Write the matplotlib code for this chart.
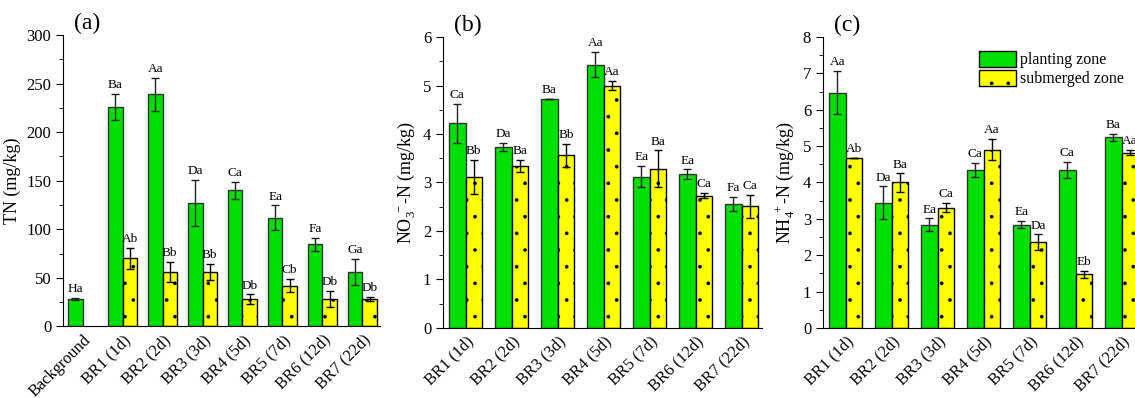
import matplotlib.pyplot as plt
import numpy as np
from matplotlib.patches import Patch
from matplotlib.ticker import MultipleLocator
from matplotlib.transforms import ScaledTranslation

plt.rcParams['font.family'] = 'Liberation Serif'
plt.rcParams['mathtext.fontset'] = 'custom'
plt.rcParams['mathtext.rm'] = 'Liberation Serif'
plt.rcParams['mathtext.it'] = 'Liberation Serif:italic'
plt.rcParams['hatch.linewidth'] = 0.2

# panel (a) TN
tn_cats = ['Background', 'BR1 (1d)', 'BR2 (2d)', 'BR3 (3d)', 'BR4 (5d)', 'BR5 (7d)', 'BR6 (12d)', 'BR7 (22d)']
tn_plant = [28, 226, 239, 127, 140, 112, 84.6, 56]
tn_plant_err = [1, 13, 17, 24, 9, 12.6, 6.5, 13.7]
tn_sub = [np.nan, 70, 56, 56, 28, 42, 28, 28]
tn_sub_err = [0, 11, 10, 8, 5, 7, 8.5, 2.4]
tn_plant_lab = ['Ha', 'Ba', 'Aa', 'Da', 'Ca', 'Ea', 'Fa', 'Ga']
tn_sub_lab = ['', 'Ab', 'Bb', 'Bb', 'Db', 'Cb', 'Db', 'Db']

# panel (b) NO3-N
br_cats = ['BR1 (1d)', 'BR2 (2d)', 'BR3 (3d)', 'BR4 (5d)', 'BR5 (7d)', 'BR6 (12d)', 'BR7 (22d)']
no3_plant = [4.22, 3.73, 4.72, 5.43, 3.12, 3.17, 2.56]
no3_plant_err = [0.4, 0.09, 0, 0.26, 0.22, 0.1, 0.14]
no3_sub = [3.12, 3.34, 3.56, 5.0, 3.28, 2.73, 2.51]
no3_sub_err = [0.35, 0.12, 0.24, 0.1, 0.38, 0.05, 0.24]
no3_plant_lab = ['Ca', 'Da', 'Ba', 'Aa', 'Ea', 'Ea', 'Fa']
no3_sub_lab = ['Bb', 'Ba', 'Bb', 'Aa', 'Ba', 'Ca', 'Ca']

# panel (c) NH4-N
nh4_plant = [6.47, 3.44, 2.84, 4.34, 2.84, 4.34, 5.24]
nh4_plant_err = [0.6, 0.45, 0.17, 0.2, 0.1, 0.23, 0.09]
nh4_sub = [4.68, 4.0, 3.31, 4.9, 2.36, 1.47, 4.82]
nh4_sub_err = [0, 0.25, 0.12, 0.29, 0.21, 0.1, 0.07]
nh4_plant_lab = ['Aa', 'Da', 'Ea', 'Ca', 'Ea', 'Ca', 'Ba']
nh4_sub_lab = ['Ab', 'Ba', 'Ca', 'Aa', 'Da', 'Eb', 'Aa']

green = '#00e000'
yellow = '#ffff00'
w = 0.36


def draw_panel(ax, cats, plant, plant_err, sub, sub_err, plant_lab, sub_lab, ymax, step, ylabel, tag):
    x = np.arange(len(cats))
    ax.bar(x - w / 2, plant, w, color=green, edgecolor='#333333', linewidth=1)
    ax.bar(x + w / 2, sub, w, color=yellow, edgecolor='black', linewidth=1, hatch='.')
    ax.errorbar(x - w / 2, plant, yerr=plant_err, fmt='none', ecolor='#222222', capsize=3, elinewidth=1, capthick=1)
    ax.errorbar(x + w / 2, sub, yerr=sub_err, fmt='none', ecolor='black', capsize=3, elinewidth=1, capthick=1)
    for i in range(len(cats)):
        ax.annotate(plant_lab[i], (x[i] - w / 2, plant[i] + plant_err[i]), xytext=(0, 2),
                    textcoords='offset points', ha='center', va='bottom', fontsize=9.5)
        if sub_lab[i]:
            ax.annotate(sub_lab[i], (x[i] + w / 2, sub[i] + sub_err[i]), xytext=(0, 2),
                        textcoords='offset points', ha='center', va='bottom', fontsize=9.5)
    ax.set_xlim(-0.49, len(cats) - 1 + 0.44)
    ax.set_ylim(0, ymax)
    ax.yaxis.set_major_locator(MultipleLocator(step))
    ax.yaxis.set_minor_locator(MultipleLocator(step / 2))
    ax.set_xticks(x)
    ax.set_xticklabels(cats, rotation=45, ha='right', rotation_mode='anchor', fontsize=11.8)
    shift = ScaledTranslation(7 / 72, 0, ax.figure.dpi_scale_trans)
    for lab in ax.get_xticklabels():
        lab.set_transform(lab.get_transform() + shift)
    ax.tick_params(axis='x', length=0, pad=4)
    ax.tick_params(axis='y', which='major', direction='out', length=5, labelsize=12)
    ax.tick_params(axis='y', which='minor', direction='out', length=3)
    ax.spines['top'].set_visible(False)
    ax.spines['right'].set_visible(False)
    ax.set_ylabel(ylabel, fontsize=13)
    ax.text(0.035, 1.04, tag, transform=ax.transAxes, fontsize=17, va='center')


fig = plt.figure(figsize=(11.35, 3.98), dpi=100)
ax1 = fig.add_axes([63 / 1135, 0.18, 317 / 1135, 0.732])
ax2 = fig.add_axes([443 / 1135, 0.176, 319 / 1135, 0.731])
ax3 = fig.add_axes([823 / 1135, 0.176, 319 / 1135, 0.731])

draw_panel(ax1, tn_cats, tn_plant, tn_plant_err, tn_sub, tn_sub_err, tn_plant_lab, tn_sub_lab,
           300, 50, 'TN (mg/kg)', '(a)')
draw_panel(ax2, br_cats, no3_plant, no3_plant_err, no3_sub, no3_sub_err, no3_plant_lab, no3_sub_lab,
           6, 1, r'NO$_3^{\ -}$-N (mg/kg)', '(b)')
draw_panel(ax3, br_cats, nh4_plant, nh4_plant_err, nh4_sub, nh4_sub_err, nh4_plant_lab, nh4_sub_lab,
           8, 1, r'NH$_4^{\ +}$-N (mg/kg)', '(c)')

handles = [Patch(facecolor=green, edgecolor='black', label='planting zone'),
           Patch(facecolor=yellow, edgecolor='black', hatch='.', label='submerged zone')]
ax3.legend(handles=handles, loc='upper left', bbox_to_anchor=(0.465, 0.979), frameon=False,
           fontsize=11.5, handlelength=2.3, handleheight=1.15, labelspacing=0.08, borderpad=0,
           handletextpad=0.25)

plt.savefig('out.png', dpi=100)
